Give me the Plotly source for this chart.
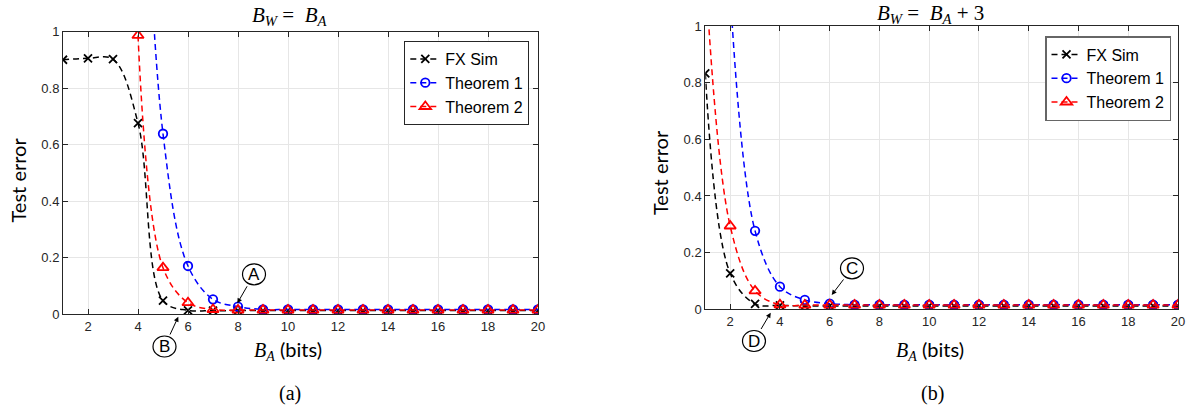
import plotly.graph_objects as go

W, H = 1188, 406

bits = list(range(1, 21))
ticks_x = [2, 4, 6, 8, 10, 12, 14, 16, 18, 20]
ticks_y = [0, 0.2, 0.4, 0.6, 0.8, 1]

# (a) B_W = B_A
fx_a = [0.900, 0.905, 0.902, 0.676, 0.047, 0.013, 0.012, 0.012, 0.012, 0.012,
        0.012, 0.012, 0.012, 0.012, 0.012, 0.012, 0.012, 0.012, 0.012, 0.012]
th1_a = [None, None, None, 2.3, 0.638, 0.170, 0.052, 0.026, 0.016, 0.016,
         0.016, 0.016, 0.016, 0.016, 0.016, 0.016, 0.016, 0.016, 0.016, 0.016]
th2_a = [None, None, None, 0.986, 0.164, 0.040, 0.016, 0.014, 0.014, 0.014,
         0.014, 0.014, 0.014, 0.014, 0.014, 0.014, 0.014, 0.014, 0.014, 0.014]

# (b) B_W = B_A + 3
fx_b = [0.833, 0.127, 0.019, 0.014, 0.012, 0.012, 0.012, 0.012, 0.012, 0.012,
        0.012, 0.012, 0.012, 0.012, 0.012, 0.012, 0.012, 0.012, 0.012, 0.012]
th1_b = [None, 1.12, 0.277, 0.080, 0.033, 0.020, 0.016, 0.016, 0.016, 0.016,
         0.016, 0.016, 0.016, 0.016, 0.016, 0.016, 0.016, 0.016, 0.016, 0.016]
th2_b = [1.2, 0.294, 0.065, 0.016, 0.015, 0.015, 0.015, 0.015, 0.015, 0.015,
         0.015, 0.015, 0.015, 0.015, 0.015, 0.015, 0.015, 0.015, 0.015, 0.015]

names = ["FX Sim", "Theorem 1", "Theorem 2"]
colors = ["#000000", "#0000FF", "#FF0000"]
symbols = ["x-thin", "circle-open", "triangle-up-open"]
msizes = [8, 8.5, 10]

def px(x):
    return x / W

def py(y):
    return 1 - y / H

fig = go.Figure()

def add_series(xa, ya, legend, series):
    for name, col, sym, ms, vals in zip(names, colors, symbols, msizes, series):
        fig.add_trace(go.Scatter(
            x=bits, y=vals, xaxis=xa, yaxis=ya, legend=legend, name=name,
            mode="lines+markers",
            line=dict(color=col, width=1.5, dash="6px,4px", shape="spline", smoothing=1),
            marker=dict(symbol=sym, size=ms, color=col, line=dict(color=col, width=1.8)),
            connectgaps=False,
        ))

add_series("x", "y", "legend", [fx_a, th1_a, th2_a])
add_series("x2", "y2", "legend2", [fx_b, th1_b, th2_b])

tickfont = dict(family="Liberation Sans, Arial, sans-serif", size=13, color="#262626")
axcommon = dict(
    showline=True, linecolor="#262626", linewidth=1, mirror="ticks",
    ticks="inside", ticklen=5, tickcolor="#262626", tickwidth=1,
    showgrid=True, gridcolor="#e6e6e6", gridwidth=1, zeroline=False,
    tickfont=tickfont, automargin=False,
)

dom_a_x = [px(63), px(538)]
dom_a_y = [py(314), py(31.5)]
dom_b_x = [px(705.3), px(1178)]
dom_b_y = [py(309.3), py(26)]

legfont = dict(family="Liberation Sans, Arial, sans-serif", size=16, color="#000000")
fig.update_layout(
    width=W, height=H,
    margin=dict(l=0, r=0, t=0, b=0),
    paper_bgcolor="white", plot_bgcolor="white",
    showlegend=True,
    xaxis=dict(domain=dom_a_x, range=[1, 20], tickvals=ticks_x, anchor="y", **axcommon),
    yaxis=dict(domain=dom_a_y, range=[0, 1], tickvals=ticks_y, anchor="x", **axcommon),
    xaxis2=dict(domain=dom_b_x, range=[1, 20], tickvals=ticks_x, anchor="y2", **axcommon),
    yaxis2=dict(domain=dom_b_y, range=[0, 1], tickvals=ticks_y, anchor="x2", **axcommon),
    legend=dict(x=px(529.3), y=py(41), xanchor="right", yanchor="top",
                bgcolor="white", bordercolor="#262626", borderwidth=1,
                font=legfont, itemwidth=30, tracegroupgap=0),
    legend2=dict(x=px(1171), y=py(36), xanchor="right", yanchor="top",
                 bgcolor="white", bordercolor="#666666", borderwidth=1.5,
                 font=legfont, itemwidth=30, tracegroupgap=0),
)

shapes = []
# white areas behind the legends (legend background hides the grid there)
shapes.append(dict(type="rect", xref="paper", yref="paper", layer="between",
                   x0=px(396), x1=px(537), y0=py(127.5), y1=py(32.5),
                   fillcolor="white", line=dict(width=0)))
shapes.append(dict(type="rect", xref="paper", yref="paper", layer="between",
                   x0=px(1037.7), x1=px(1177), y0=py(123), y1=py(27),
                   fillcolor="white", line=dict(width=0)))

annotations = []
letter_font = dict(family="Liberation Sans, Arial, sans-serif", size=17, color="#000000")
# circled labels: (center x, center y, letter, tip x, tip y)
labels = [
    (254, 274.3, "A", 237.3, 303.3),
    (164.5, 346.5, "B", 178.3, 316.7),
    (852, 268.3, "C", 831.7, 295),
    (754, 341, "D", 770.7, 312.7),
]
rx, ry = 11.5, 10.5
for cx, cy, letter, tx, ty in labels:
    shapes.append(dict(type="circle", xref="paper", yref="paper",
                       x0=px(cx - rx), x1=px(cx + rx), y0=py(cy + ry), y1=py(cy - ry),
                       line=dict(color="black", width=1.2), fillcolor="rgba(0,0,0,0)"))
    annotations.append(dict(text=letter, xref="paper", yref="paper", x=px(tx), y=py(ty),
                            ax=cx - tx, ay=cy - ty, axref="pixel", ayref="pixel",
                            showarrow=True, arrowhead=2, arrowsize=1, arrowwidth=1,
                            arrowcolor="black", borderpad=2, font=letter_font))

serif = "Liberation Serif, Times New Roman, serif"
sans_label = "Lato, Liberation Sans, sans-serif"

# titles
annotations.append(dict(text="<i>B</i><sub><i>W</i></sub> =  <i>B</i><sub><i>A</i></sub>",
                        xref="paper", yref="paper", x=px(290), y=py(16), showarrow=False,
                        font=dict(family=serif, size=21, color="black"),
                        xanchor="center", yanchor="middle"))
annotations.append(dict(text="<i>B</i><sub><i>W</i></sub> =  <i>B</i><sub><i>A</i></sub> + 3",
                        xref="paper", yref="paper", x=px(930), y=py(14), showarrow=False,
                        font=dict(family=serif, size=21, color="black"),
                        xanchor="center", yanchor="middle"))

# axis labels
xlab = ('<span style="font-family:Liberation Serif, serif"><i>B</i><sub><i>A</i></sub></span>'
        ' (bits)')
for cx in (288, 930):
    annotations.append(dict(text=xlab, xref="paper", yref="paper", x=px(cx), y=py(350),
                            showarrow=False, font=dict(family=sans_label, size=20, color="black"),
                            xanchor="center", yanchor="middle"))
for cx, cy in ((17.5, 180), (660, 173)):
    annotations.append(dict(text="Test error", xref="paper", yref="paper", x=px(cx), y=py(cy),
                            showarrow=False, textangle=-90,
                            font=dict(family=sans_label, size=20, color="black"),
                            xanchor="center", yanchor="middle"))

# panel captions
for cx, txt in ((290, "(a)"), (932, "(b)")):
    annotations.append(dict(text=txt, xref="paper", yref="paper", x=px(cx), y=py(393),
                            showarrow=False, font=dict(family=serif, size=20, color="black"),
                            xanchor="center", yanchor="middle"))

fig.update_layout(shapes=shapes, annotations=annotations)

fig.write_html("out.html",
               config={"displayModeBar": False},
               post_script="document.body.style.margin='0';document.body.style.padding='0';")
